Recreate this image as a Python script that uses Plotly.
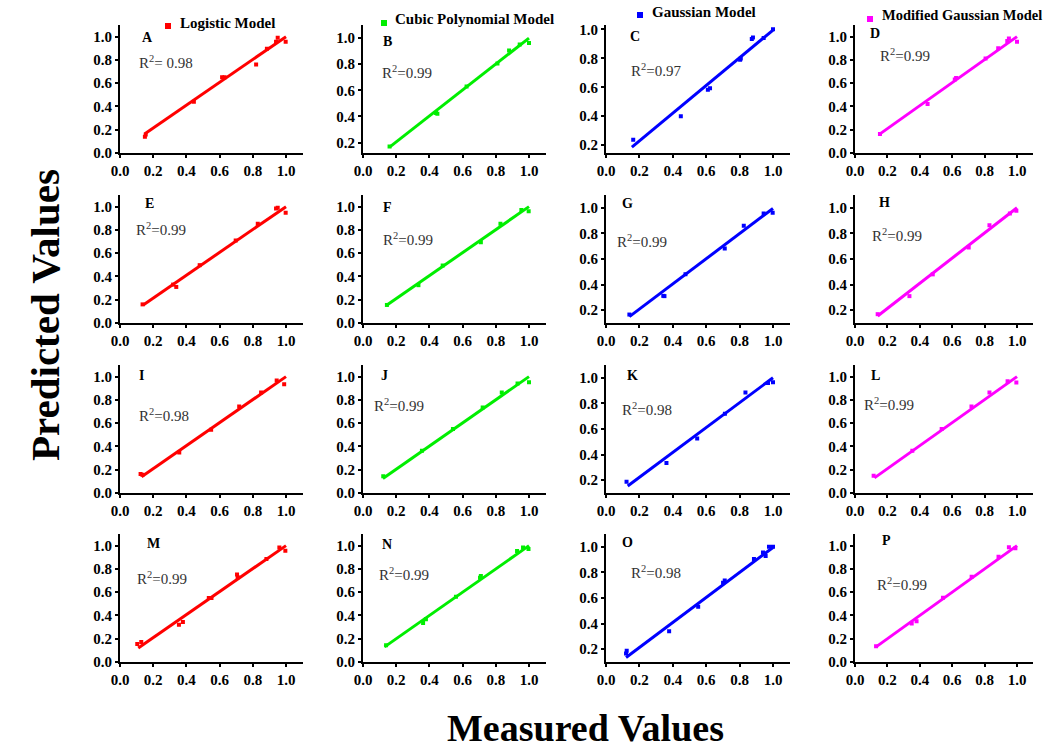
import plotly.graph_objects as go

# ---------------- data ----------------
panel_letters = ["A", "B", "C", "D", "E", "F", "G", "H", "I", "J", "K", "L", "M", "N", "O", "P"]
model_names = ["Logistic Model", "Cubic Polynomial Model", "Gaussian Model", "Modified Gaussian Model"]
model_colors = ["#ff0000", "#00ee00", "#0000ff", "#ff00ff"]
r2_labels = ["R<sup>2</sup>= 0.98", "R<sup>2</sup>=0.99", "R<sup>2</sup>=0.97", "R<sup>2</sup>=0.99",
             "R<sup>2</sup>=0.99", "R<sup>2</sup>=0.99", "R<sup>2</sup>=0.99", "R<sup>2</sup>=0.99",
             "R<sup>2</sup>=0.98", "R<sup>2</sup>=0.99", "R<sup>2</sup>=0.98", "R<sup>2</sup>=0.99",
             "R<sup>2</sup>=0.99", "R<sup>2</sup>=0.99", "R<sup>2</sup>=0.98", "R<sup>2</sup>=0.99"]

measured_A = [0.15, 0.155, 0.445, 0.615, 0.63, 0.82, 0.885, 0.94, 0.95, 0.998]
predicted_A = [0.14, 0.16, 0.44, 0.65, 0.65, 0.76, 0.895, 0.955, 0.99, 0.955]
measured_B = [0.16, 0.44, 0.448, 0.624, 0.81, 0.88, 0.944, 1.0]
predicted_B = [0.169, 0.427, 0.42, 0.63, 0.805, 0.905, 0.95, 0.963]
measured_C = [0.163, 0.448, 0.61, 0.623, 0.803, 0.807, 0.873, 0.88, 0.944, 1.0]
predicted_C = [0.238, 0.40, 0.583, 0.594, 0.79, 0.798, 0.933, 0.944, 0.94, 1.0]
measured_D = [0.154, 0.448, 0.616, 0.624, 0.806, 0.884, 0.94, 0.95, 1.0]
predicted_D = [0.164, 0.422, 0.632, 0.644, 0.813, 0.90, 0.963, 0.983, 0.957]
measured_E = [0.136, 0.32, 0.339, 0.48, 0.697, 0.83, 0.94, 0.95, 0.998]
predicted_E = [0.16, 0.33, 0.31, 0.497, 0.71, 0.853, 0.983, 0.99, 0.948]
measured_F = [0.144, 0.334, 0.48, 0.71, 0.828, 0.954, 0.998]
predicted_F = [0.155, 0.325, 0.494, 0.695, 0.853, 0.971, 0.96]
measured_G = [0.14, 0.343, 0.35, 0.476, 0.711, 0.825, 0.944, 0.998]
predicted_G = [0.166, 0.312, 0.31, 0.481, 0.682, 0.86, 0.956, 0.961]
measured_H = [0.14, 0.336, 0.48, 0.702, 0.83, 0.956, 0.996]
predicted_H = [0.169, 0.31, 0.48, 0.69, 0.864, 0.956, 0.977]
measured_I = [0.124, 0.135, 0.357, 0.549, 0.718, 0.85, 0.944, 0.989]
predicted_I = [0.163, 0.157, 0.349, 0.543, 0.743, 0.863, 0.966, 0.934]
measured_J = [0.122, 0.355, 0.542, 0.721, 0.836, 0.931, 1.0]
predicted_J = [0.143, 0.363, 0.549, 0.734, 0.863, 0.94, 0.951]
measured_K = [0.123, 0.362, 0.546, 0.712, 0.835, 0.97, 1.0]
predicted_K = [0.187, 0.335, 0.526, 0.72, 0.885, 0.96, 0.966]
measured_L = [0.115, 0.354, 0.535, 0.719, 0.83, 0.942, 0.996]
predicted_L = [0.149, 0.363, 0.549, 0.743, 0.863, 0.96, 0.949]
measured_M = [0.104, 0.128, 0.355, 0.379, 0.535, 0.551, 0.705, 0.709, 0.882, 0.96, 0.996]
predicted_M = [0.154, 0.171, 0.32, 0.343, 0.549, 0.549, 0.751, 0.729, 0.886, 0.983, 0.957]
measured_N = [0.139, 0.362, 0.379, 0.56, 0.705, 0.71, 0.928, 0.964, 0.997]
predicted_N = [0.144, 0.336, 0.368, 0.56, 0.724, 0.739, 0.954, 0.983, 0.971]
measured_O = [0.12, 0.124, 0.378, 0.552, 0.701, 0.711, 0.886, 0.94, 0.956, 0.976, 1.0]
predicted_O = [0.166, 0.187, 0.34, 0.531, 0.72, 0.737, 0.904, 0.955, 0.928, 1.0, 1.0]
measured_P = [0.13, 0.35, 0.38, 0.543, 0.72, 0.886, 0.95, 0.99]
predicted_P = [0.135, 0.33, 0.35, 0.552, 0.733, 0.905, 0.986, 0.977]

# fitted line end points (measured, predicted)
fit_x_A, fit_y_A = [0.15, 1.0], [0.165, 1.0]
fit_x_B, fit_y_B = [0.16, 1.0], [0.165, 1.0]
fit_x_C, fit_y_C = [0.155, 1.0], [0.187, 0.995]
fit_x_D, fit_y_D = [0.15, 1.0], [0.16, 1.0]
fit_x_E, fit_y_E = [0.14, 1.0], [0.155, 1.0]
fit_x_F, fit_y_F = [0.14, 1.0], [0.15, 1.0]
fit_x_G, fit_y_G = [0.14, 1.0], [0.15, 0.995]
fit_x_H, fit_y_H = [0.14, 1.0], [0.155, 1.0]
fit_x_I, fit_y_I = [0.13, 1.0], [0.14, 1.0]
fit_x_J, fit_y_J = [0.12, 1.0], [0.125, 1.0]
fit_x_K, fit_y_K = [0.13, 1.0], [0.155, 1.0]
fit_x_L, fit_y_L = [0.12, 1.0], [0.13, 1.0]
fit_x_M, fit_y_M = [0.11, 1.0], [0.12, 1.0]
fit_x_N, fit_y_N = [0.13, 1.0], [0.13, 1.0]
fit_x_O, fit_y_O = [0.12, 1.0], [0.135, 0.995]
fit_x_P, fit_y_P = [0.13, 1.0], [0.13, 1.0]

measured = [measured_A, measured_B, measured_C, measured_D, measured_E, measured_F, measured_G, measured_H,
            measured_I, measured_J, measured_K, measured_L, measured_M, measured_N, measured_O, measured_P]
predicted = [predicted_A, predicted_B, predicted_C, predicted_D, predicted_E, predicted_F, predicted_G, predicted_H,
             predicted_I, predicted_J, predicted_K, predicted_L, predicted_M, predicted_N, predicted_O, predicted_P]
fit_x = [fit_x_A, fit_x_B, fit_x_C, fit_x_D, fit_x_E, fit_x_F, fit_x_G, fit_x_H,
         fit_x_I, fit_x_J, fit_x_K, fit_x_L, fit_x_M, fit_x_N, fit_x_O, fit_x_P]
fit_y = [fit_y_A, fit_y_B, fit_y_C, fit_y_D, fit_y_E, fit_y_F, fit_y_G, fit_y_H,
         fit_y_I, fit_y_J, fit_y_K, fit_y_L, fit_y_M, fit_y_N, fit_y_O, fit_y_P]

# ---------------- layout / style ----------------
W, H = 1064, 753
SERIF = "Liberation Serif, Times New Roman, serif"
col_left = [120, 363, 606, 855]
col_unit = [166, 166, 167, 162]
row_bottom = [153, 323, 493, 662]
panel_height = 128
y_ranges = [[0, 1.1], [0.12, 1.1], [0.146, 1.03], [0, 1.1],
            [0, 1.1], [0, 1.1], [0.1, 1.1], [0.1, 1.1],
            [0, 1.1], [0, 1.1], [0.1, 1.1], [0, 1.1],
            [0, 1.1], [0, 1.1], [0.1, 1.1], [0, 1.1]]
letter_pos = [(0.12, 0.99), (0.11, 0.97), (0.13, 0.95), (0.08, 1.03),
              (0.14, 1.03), (0.11, 0.99), (0.085, 1.03), (0.135, 1.045),
              (0.10, 1.01), (0.095, 1.01), (0.115, 1.02), (0.085, 1.01),
              (0.15, 1.02), (0.105, 1.01), (0.083, 1.03), (0.155, 1.04)]
r2_pos = [(0.10, 0.78), (0.10, 0.74), (0.14, 0.72), (0.14, 0.845),
          (0.085, 0.81), (0.11, 0.72), (0.055, 0.74), (0.09, 0.79),
          (0.10, 0.67), (0.057, 0.757), (0.085, 0.755), (0.046, 0.766),
          (0.09, 0.72), (0.086, 0.76), (0.14, 0.80), (0.124, 0.67)]


def px(x):
    return x / W


def py(y):
    return 1 - y / H


fig = go.Figure()
layout = dict(width=W, height=H, margin=dict(l=0, r=0, t=0, b=0),
              paper_bgcolor="white", plot_bgcolor="white", showlegend=False,
              font=dict(family=SERIF, color="black"))
annotations = []
shapes = []

for i in range(16):
    r, c = divmod(i, 4)
    n = "" if i == 0 else str(i + 1)
    color = model_colors[c]
    x0 = col_left[c]
    x1 = x0 + 1.1 * col_unit[c]
    yb = row_bottom[r]
    yt = yb - panel_height
    yr = y_ranges[i]
    yticks = [v for v in [0.0, 0.2, 0.4, 0.6, 0.8, 1.0] if v >= yr[0] - 1e-9]
    axis_common = dict(showline=True, linecolor="black", linewidth=2, showgrid=False, zeroline=False,
                       ticks="outside", ticklen=3, tickwidth=2, tickcolor="black",
                       tickfont=dict(family=SERIF, size=15, color="black", weight="bold"),
                       tickformat=".1f", automargin=False)
    layout["xaxis" + n] = dict(domain=[px(x0), px(x1)], range=[0, 1.1], anchor="y" + n,
                               tickvals=[0, 0.2, 0.4, 0.6, 0.8, 1.0], **axis_common)
    layout["yaxis" + n] = dict(domain=[py(yb), py(yt)], range=yr, anchor="x" + n,
                               tickvals=yticks, **axis_common)
    fig.add_trace(go.Scatter(x=fit_x[i], y=fit_y[i], mode="lines",
                             line=dict(color=color, width=3), xaxis="x" + n, yaxis="y" + n,
                             hoverinfo="skip"))
    fig.add_trace(go.Scatter(x=measured[i], y=predicted[i], mode="markers",
                             marker=dict(symbol="square", size=4, color=color),
                             xaxis="x" + n, yaxis="y" + n))
    annotations.append(dict(x=letter_pos[i][0], y=letter_pos[i][1], xref="x" + n, yref="y" + n,
                            text="<b>" + panel_letters[i] + "</b>", showarrow=False,
                            xanchor="left", yanchor="middle",
                            font=dict(family=SERIF, size=14, color="black")))
    annotations.append(dict(x=r2_pos[i][0], y=r2_pos[i][1], xref="x" + n, yref="y" + n,
                            text=r2_labels[i], showarrow=False, xanchor="left", yanchor="middle",
                            font=dict(family=SERIF, size=15, color="#333333")))

# model "legend" entries above each column
legend_marker = [(168, 26), (384, 23), (640, 15), (870, 19)]
legend_text = [(178, 23), (393, 19), (650, 12), (880, 15)]
legend_size = [15, 15, 15, 14.5]
for c in range(4):
    mx, my = legend_marker[c]
    shapes.append(dict(type="rect", xref="paper", yref="paper",
                       x0=px(mx - 3), x1=px(mx + 3), y0=py(my + 3), y1=py(my - 3),
                       fillcolor=model_colors[c], line=dict(width=0)))
    tx, ty = legend_text[c]
    annotations.append(dict(x=px(tx), y=py(ty), xref="paper", yref="paper",
                            text="<b>" + model_names[c] + "</b>", showarrow=False,
                            xanchor="left", yanchor="middle",
                            font=dict(family=SERIF, size=legend_size[c], color="black")))

annotations.append(dict(x=px(45), y=py(315), xref="paper", yref="paper", text="<b>Predicted Values</b>",
                        showarrow=False, textangle=-90, xanchor="center", yanchor="middle",
                        font=dict(family=SERIF, size=41, color="black")))
annotations.append(dict(x=px(585), y=py(728), xref="paper", yref="paper", text="<b>Measured Values</b>",
                        showarrow=False, xanchor="center", yanchor="middle",
                        font=dict(family=SERIF, size=38, color="black")))

layout["annotations"] = annotations
layout["shapes"] = shapes
fig.update_layout(**layout)
fig.write_html("out.html", config={"displayModeBar": False},
               post_script="document.body.style.margin='0';document.body.style.overflow='hidden';")
